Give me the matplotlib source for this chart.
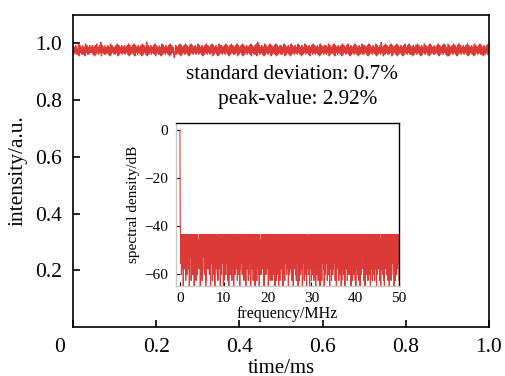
import numpy as np
import matplotlib
matplotlib.use("Agg")
import matplotlib.pyplot as plt
from matplotlib.transforms import ScaledTranslation

plt.rcParams['font.family'] = ['Liberation Serif', 'DejaVu Serif']

# intensity trace, one digit per sample (0 = low, 9 = high), read by eye
intensity_levels = (
    "726372528173627261837262736372617283627391736272637261827362"
    "627381726372637263728172637281736273627182736291726372637281"
    "736272618273627362718273620372637281726372837261728372637263"
    "827362716273827362738172637261827372637283726172837262738172"
    "637281726372637281736272819372637261827362738172637281726372"
    "726381726372618273627362837261726382736271637283726372618273"
    "627372638172637281736273627182736273826172637283726172638272"
    "736271827362736281726372936172837262738172637281726372617283"
    "627382726172637283726172638273627182736272637281726372837261"
    "817263728372617283726372637281726372618273627382726172637283"
)
intensity_mean = 0.977
intensity_step = 0.006

# spectrum: dc peak then noise floor, one digit per bin (0 = -43 dB, 9 = -65 dB)
spectrum_dc = [0.0, -40.0]
spectrum_levels = (
    "051706140903160518041702150619031408051607130915041806170513"
    "160409150718061304170519081604150617031905140816071509041613"
    "071805160419061705140918031607150418061903170514081605190417"
    "150614080517041906150317051408160719041605180315071904160518"
    "041709150618041607190513170416051809140617051604190715081604"
    "180517041609051806140719031805160417091506180415071604190517"
    "061504180719051603170814051906180417051609140518061704190615"
    "170519041608051704180615090417061805140916071804150619051704"
    "051806170419051608031706150418071905160418061705190814061705"
    "190416051807140617051904180615070418091605170418061905170614"
    "041806190517041608051704190615080417051806140917051604180719"
    "160517041809061504170618051904160817051406190418051706150418"
)
floor_top = -43.5
floor_step = 2.4

std_text = "standard deviation: 0.7%"
peak_text = "peak-value: 2.92%"

red = '#db3a36'

lv = np.array([int(c) for c in intensity_levels])
intensity = intensity_mean + (lv - 4.5) * intensity_step
t = np.linspace(0, 1.0, len(intensity))

sv = np.array([int(c) for c in spectrum_levels])
spectrum = np.concatenate([spectrum_dc, floor_top - sv * floor_step])
freq = np.linspace(0, 50, len(spectrum))

fig = plt.figure(figsize=(5.06, 3.76), dpi=100)
ax = fig.add_axes([0.1443, 0.1303, 0.8221, 0.8297])
ax.plot(t, intensity, color=red, lw=1.0)
ax.set_xlim(0, 1.0)
ax.set_ylim(0, 1.1)
ax.set_xticks([0, 0.2, 0.4, 0.6, 0.8, 1.0])
ax.set_xticklabels(['0', '0.2', '0.4', '0.6', '0.8', '1.0'])
ax.set_yticks([0.2, 0.4, 0.6, 0.8, 1.0])
ax.set_yticklabels(['0.2', '0.4', '0.6', '0.8', '1.0'])
ax.tick_params(direction='in', length=5, width=1.2, labelsize=15.5, pad=8)
for s in ax.spines.values():
    s.set_linewidth(1.2)
# the origin "0" sits left of the corner
lab0 = ax.get_xticklabels()[0]
lab0.set_transform(lab0.get_transform() + ScaledTranslation(-0.13, 0, fig.dpi_scale_trans))
ax.set_xlabel('time/ms', fontsize=15, labelpad=1)
ax.set_ylabel('intensity/a.u.', fontsize=15.5, labelpad=5)

ax.text(0.526, 0.89, std_text, transform=ax.get_yaxis_transform(), ha='center', va='center', fontsize=15.3)
ax.text(0.54, 0.8025, peak_text, transform=ax.get_yaxis_transform(), ha='center', va='center', fontsize=15.3)

ins = fig.add_axes([0.3478, 0.2394, 0.4407, 0.4335])
ins.plot(freq, spectrum, color=red, lw=0.8)
ins.set_xlim(-0.9, 50)
ins.set_ylim(-65, 3)
ins.set_xticks([0, 10, 20, 30, 40, 50])
ins.set_yticks([0, -20, -40, -60])
ins.tick_params(direction='in', length=3, width=0.8, labelsize=11, pad=4)
ins.tick_params(axis='y', pad=6)
ins.spines['left'].set_color('#c8c8c8')
ins.spines['bottom'].set_color('#c8c8c8')
for s in ins.spines.values():
    s.set_linewidth(1.0)
ins.set_xlabel('frequency/MHz', fontsize=11.5, labelpad=1)
ins.set_ylabel('spectral density/dB', fontsize=11, labelpad=3)

fig.savefig('out.png', dpi=100)
